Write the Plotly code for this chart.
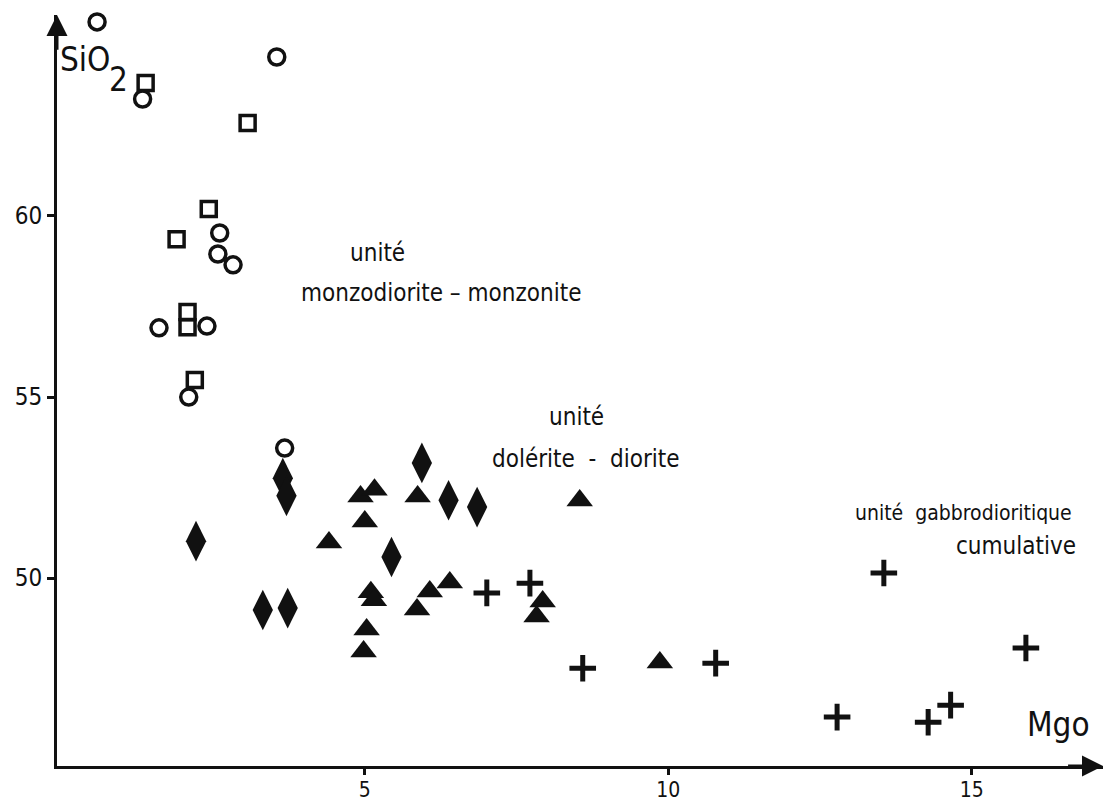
import plotly.graph_objects as go

# ---- data (MgO wt%, SiO2 wt%) ----
circle_mgo = [0.59, 3.55, 1.34, 2.61, 2.58, 2.83, 1.61, 2.40, 2.10, 3.68]
circle_sio2 = [65.36, 64.39, 63.23, 59.53, 58.95, 58.65, 56.91, 56.96, 55.00, 53.59]

square_mgo = [1.39, 3.07, 2.43, 1.90, 2.08, 2.08, 2.20]
square_sio2 = [63.67, 62.57, 60.19, 59.36, 57.35, 56.93, 55.47]

diamond_mgo = [2.22, 3.65, 3.71, 3.32, 3.73, 5.44, 5.94, 6.38, 6.85]
diamond_sio2 = [51.02, 52.76, 52.27, 49.12, 49.17, 50.58, 53.18, 52.15, 51.96]

triangle_mgo = [4.93, 5.16, 5.00, 5.87, 4.41, 5.10, 5.15, 5.03, 4.98,
                5.86, 6.07, 6.40, 7.93, 7.83, 8.54, 9.86]
triangle_sio2 = [52.25, 52.44, 51.56, 52.25, 50.98, 49.61, 49.39, 48.58, 47.97,
                 49.13, 49.63, 49.88, 49.35, 48.94, 52.14, 47.67]

cross_mgo = [7.01, 7.72, 8.59, 10.78, 13.55, 15.89, 12.78, 14.28, 14.65]
cross_sio2 = [49.59, 49.86, 47.51, 47.65, 50.14, 48.07, 46.16, 46.02, 46.49]

x_ticks = [5, 10, 15]
y_ticks = [50, 55, 60]
x_range = [-0.07, 17.16]
y_range = [44.81, 65.55]

FONT = "DejaVu Sans Condensed, Liberation Sans Narrow, DejaVu Sans, sans-serif"
INK = "#111111"

fig = go.Figure()

fig.add_trace(go.Scatter(
    x=circle_mgo, y=circle_sio2, mode="markers", name="circles",
    marker=dict(symbol="circle-open", size=16, color=INK, line=dict(width=3.5, color=INK)),
    cliponaxis=False))
fig.add_trace(go.Scatter(
    x=square_mgo, y=square_sio2, mode="markers", name="squares",
    marker=dict(symbol="square-open", size=15, color=INK, line=dict(width=3.5, color=INK)),
    cliponaxis=False))
fig.add_trace(go.Scatter(
    x=diamond_mgo, y=diamond_sio2, mode="markers", name="diamonds",
    marker=dict(symbol="diamond-tall", size=29, color=INK, line=dict(width=0)),
    cliponaxis=False))
fig.add_trace(go.Scatter(
    x=triangle_mgo, y=triangle_sio2, mode="markers", name="triangles",
    marker=dict(symbol="triangle-up", size=23, color=INK, line=dict(width=0)),
    cliponaxis=False))
fig.add_trace(go.Scatter(
    x=cross_mgo, y=cross_sio2, mode="markers", name="crosses",
    marker=dict(symbol="cross-thin", size=19, color=INK, line=dict(width=5, color=INK)),
    cliponaxis=False))

annotations = []
# arrow heads on both axes
annotations.append(dict(x=x_range[1], y=y_range[0], ax=x_range[1] - 0.6, ay=y_range[0],
                        xref="x", yref="y", axref="x", ayref="y", text="", showarrow=True,
                        arrowhead=2, arrowsize=1.4, arrowwidth=3, arrowcolor=INK))
annotations.append(dict(x=x_range[0], y=y_range[1], ax=x_range[0], ay=y_range[1] - 1.0,
                        xref="x", yref="y", axref="x", ayref="y", text="", showarrow=True,
                        arrowhead=2, arrowsize=1.4, arrowwidth=3, arrowcolor=INK))

def label(x, y, text, size, xanchor="center"):
    annotations.append(dict(x=x, y=y, xref="x", yref="y", text=text, showarrow=False,
                            xanchor=xanchor, yanchor="middle",
                            font=dict(family=FONT, size=size, color=INK)))

label(0.39, 64.31, "SiO", 33)
label(0.95, 63.76, "2", 33)
label(16.43, 45.96, "Mgo", 33)
label(5.21, 58.98, "unité", 24)
label(6.25, 57.88, "monzodiorite – monzonite", 24)
label(8.48, 54.45, "unité", 24)
label(8.64, 53.30, "dolérite  -  diorite", 24)
label(14.87, 51.79, "unité  gabbrodioritique", 21)
label(15.72, 50.88, "cumulative", 24)

# the page body adds an 8 px offset, so the figure is shifted/sized to compensate
fig.update_layout(
    width=1112, height=794,
    margin=dict(l=49, r=17, t=7, b=36, autoexpand=False),
    paper_bgcolor="white", plot_bgcolor="white",
    showlegend=False,
    annotations=annotations,
    font=dict(family=FONT, color=INK),
)
fig.update_xaxes(
    range=x_range, showgrid=False, zeroline=False, showline=True, linewidth=3, linecolor=INK,
    automargin=False,
    ticks="outside", ticklen=6, tickwidth=3, tickcolor=INK, tickvals=x_ticks,
    ticklabelstandoff=-3,
    tickfont=dict(family=FONT, size=21, color=INK))
fig.update_yaxes(
    range=y_range, showgrid=False, zeroline=False, showline=True, linewidth=3, linecolor=INK,
    automargin=False,
    ticks="outside", ticklen=7, tickwidth=3, tickcolor=INK, tickvals=y_ticks,
    tickfont=dict(family=FONT, size=24, color=INK))

fig.write_html("out.html")
